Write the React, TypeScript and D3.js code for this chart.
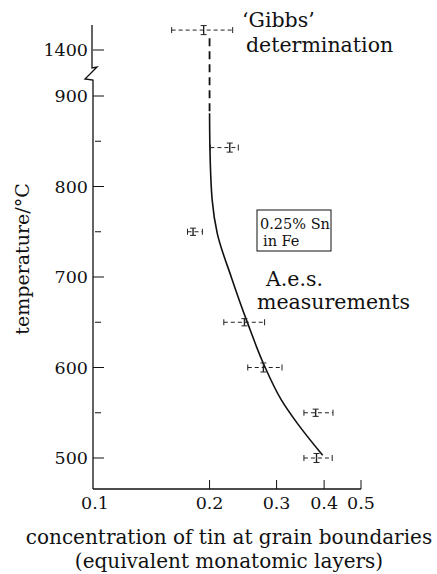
import React from "react";
import * as d3 from "d3";

// ---- data ----
const yTickValues = [500, 550, 600, 650, 700, 750, 800, 850, 900, 1400];
const yTickLabels = ["500", "", "600", "", "700", "", "800", "", "900", "1400"];
const xTickValues = [0.1, 0.2, 0.3, 0.4, 0.5];
const xTickLabels = ["0.1", "0.2", "0.3", "0.4", "0.5"];

// measured points (a.e.s. + 'Gibbs')
const ptTemp = [1422, 843, 750, 650, 600, 550, 500];
const ptConc = [0.193, 0.226, 0.181, 0.247, 0.277, 0.38, 0.382];
const ptLow = [0.159, 0.201, 0.175, 0.218, 0.252, 0.354, 0.354];
const ptHigh = [0.23, 0.238, 0.1915, 0.279, 0.31, 0.422, 0.42];
const ptTErr = [5, 5, 4, 4, 5, 4, 5];

// fitted curve
const curveTemp = [881, 840, 785, 748, 699, 649, 603, 564, 538, 503];
const curveConc = [0.2, 0.2005, 0.2032, 0.2096, 0.2285, 0.2518, 0.278, 0.309, 0.3406, 0.3965];
// dashed extrapolation
const dashTemp = [1413, 881];
const dashConc = [0.2, 0.2];

const FONT = "'DejaVu Serif', 'Liberation Serif', serif";
const INK = "#111";

export default function App() {
  const x = d3.scaleLog().domain([0.1, 0.5]).range([95, 361]);
  const y = d3
    .scaleLinear()
    .domain([500, 920, 1380, 1450])
    .range([458, 77.9, 68.1, 4.75]);

  const line = d3
    .line<number>()
    .x((_, i) => x(curveConc[i]))
    .y((_, i) => y(curveTemp[i]))
    .curve(d3.curveMonotoneY);
  const dashLine = d3
    .line<number>()
    .x((_, i) => x(dashConc[i]))
    .y((_, i) => y(dashTemp[i]));

  const axisY = 489;

  return (
    <svg
      width={437}
      height={574}
      style={{ position: "absolute", left: 0, top: 0, background: "#fff" }}
      fontFamily={FONT}
    >
      <rect width={437} height={574} fill="#fff" />
      {/* y axis with break */}
      <path
        d={`M92,25 L92,68 L97,67 L85,79 L93,80 L93,${axisY}`}
        fill="none"
        stroke={INK}
        strokeWidth={1.3}
      />
      {yTickValues.map((v, i) => {
        const major = yTickLabels[i] !== "";
        return (
          <g key={v}>
            <line
              x1={major ? 93 : 95}
              x2={major ? 104 : 101}
              y1={y(v)}
              y2={y(v)}
              stroke={INK}
              strokeWidth={1}
            />
            {major && (
              <text
                x={88}
                y={y(v)}
                textAnchor="end"
                dominantBaseline="central"
                fontSize={17.5}
                fill={INK}
              >
                {yTickLabels[i]}
              </text>
            )}
          </g>
        );
      })}
      {/* x axis */}
      <line x1={93} x2={361} y1={axisY} y2={axisY} stroke={INK} strokeWidth={1.3} />
      {xTickValues.map((v, i) => (
        <g key={v}>
          {i > 0 && (
            <line x1={x(v)} x2={x(v)} y1={axisY} y2={axisY - 9} stroke={INK} strokeWidth={1} />
          )}
          <text x={x(v)} y={509} textAnchor="middle" fontSize={17.5} fill={INK}>
            {xTickLabels[i]}
          </text>
        </g>
      ))}
      {/* axis titles */}
      <text
        transform={`translate(29,259) rotate(-90)`}
        textAnchor="middle"
        fontSize={19}
        fill={INK}
      >
        temperature/°C
      </text>
      <text x={229} y={544} textAnchor="middle" fontSize={20} fill={INK}>
        concentration of tin at grain boundaries
      </text>
      <text x={229} y={568} textAnchor="middle" fontSize={20} fill={INK}>
        (equivalent monatomic layers)
      </text>

      {/* curve */}
      <path d={dashLine(dashTemp) || ""} fill="none" stroke={INK} strokeWidth={1.8} strokeDasharray="8,5" />
      <path d={line(curveTemp) || ""} fill="none" stroke={INK} strokeWidth={1.6} />

      {/* error bars */}
      {ptTemp.map((t, i) => {
        const cy = y(t);
        const cx = x(ptConc[i]);
        const x0 = x(ptLow[i]);
        const x1 = x(ptHigh[i]);
        const yt = y(t + ptTErr[i]);
        const yb = y(t - ptTErr[i]);
        return (
          <g key={i} stroke="#222" strokeWidth={1}>
            <line x1={x0} x2={x1} y1={cy} y2={cy} strokeDasharray="4,3" />
            <line x1={x0} x2={x0} y1={cy - 3} y2={cy + 3} />
            <line x1={x1} x2={x1} y1={cy - 3} y2={cy + 3} />
            <line x1={cx} x2={cx} y1={yt} y2={yb} strokeWidth={1.4} />
            <line x1={cx - 3} x2={cx + 3} y1={yt} y2={yt} />
            <line x1={cx - 3} x2={cx + 3} y1={yb} y2={yb} />
          </g>
        );
      })}

      {/* annotations */}
      <text x={242} y={27} fontSize={20.5} fill={INK}>‘Gibbs’</text>
      <text x={246} y={52} fontSize={20.5} fill={INK}>determination</text>
      <text x={266} y={286} fontSize={20.5} fill={INK}>A.e.s.</text>
      <text x={257} y={309} fontSize={20.5} fill={INK}>measurements</text>
      <rect x={257} y={210} width={74} height={41} fill="none" stroke={INK} strokeWidth={1} />
      <text x={260} y={229} fontSize={14.5} fill={INK}>0.25% Sn</text>
      <text x={263} y={246} fontSize={14.5} fill={INK}>in Fe</text>
    </svg>
  );
}
